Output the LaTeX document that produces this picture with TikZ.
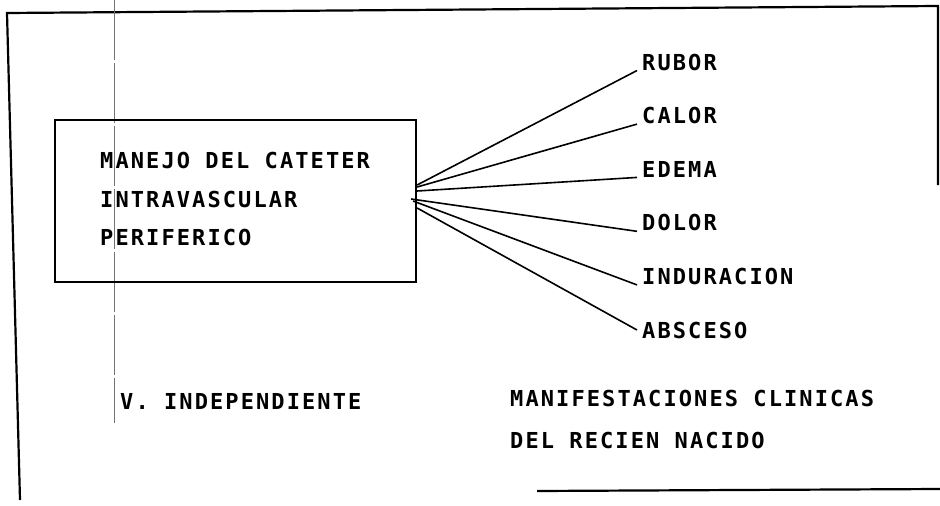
\documentclass[tikz,border=0pt]{standalone}
\usepackage{fontspec}
\newfontfamily\typefont[LetterSpace=9.5, UprightFont=* Bold]{DejaVu Sans Mono}
\usetikzlibrary{positioning}

\begin{document}
\begin{tikzpicture}[x=1pt, y=-1pt, node distance=53.6pt,
    every node/.style={font=\typefont\fontsize{22}{38.5}\selectfont},
    sign node/.style={anchor=west, inner xsep=5pt, inner ysep=0pt},
    frame line/.style={line width=2.2pt},
    link/.style={line width=1.6pt}]
  \useasboundingbox (0,0) rectangle (940,506);

  % outer frame, open at the corners
  \draw[frame line] (938,185) -- (938,6) -- (7,13) -- (20,500);
  \draw[frame line] (537,491) -- (940,489);
  % fold of the scan
  \draw[black!55, line width=0.7pt, dash pattern=on 60pt off 3pt] (114,0) -- (114,423);

  \node[draw, frame line, minimum width=361pt, minimum height=162pt] (box) at (235.5,201) {};
  \node[sign node, inner xsep=0pt, align=left] (manejo) at (100,199) {MANEJO DEL CATETER\\INTRAVASCULAR\\PERIFERICO};

  \node[sign node] (rubor) at (637,62) {RUBOR};
  \node[sign node, below=of rubor.west, anchor=west] (calor) {CALOR};
  \node[sign node, below=of calor.west, anchor=west] (edema) {EDEMA};
  \node[sign node, below=of edema.west, anchor=west] (dolor) {DOLOR};
  \node[sign node, below=of dolor.west, anchor=west] (induracion) {INDURACION};
  \node[sign node, below=of induracion.west, anchor=west] (absceso) {ABSCESO};

  \draw[link] ([yshift=16pt]box.east) -- (rubor.south west);
  \draw[link] ([yshift=14pt]box.east) -- (calor.south west);
  \draw[link] ([yshift=10pt]box.east) -- (edema.south west);
  \draw[link] ([xshift=-6pt,yshift=2pt]box.east) -- (dolor.south west);
  \draw[link] ([xshift=-4pt]box.east) -- (induracion.south west);
  \draw[link] ([yshift=-7pt]box.east) -- (absceso.west);

  \node[sign node, inner xsep=0pt] (variable) at (120,401) {V. INDEPENDIENTE};
  \node[sign node, inner xsep=0pt, align=left, font=\typefont\fontsize{22}{42}\selectfont] (manif) at (510,419) {MANIFESTACIONES CLINICAS\\DEL RECIEN NACIDO};
\end{tikzpicture}
\end{document}
